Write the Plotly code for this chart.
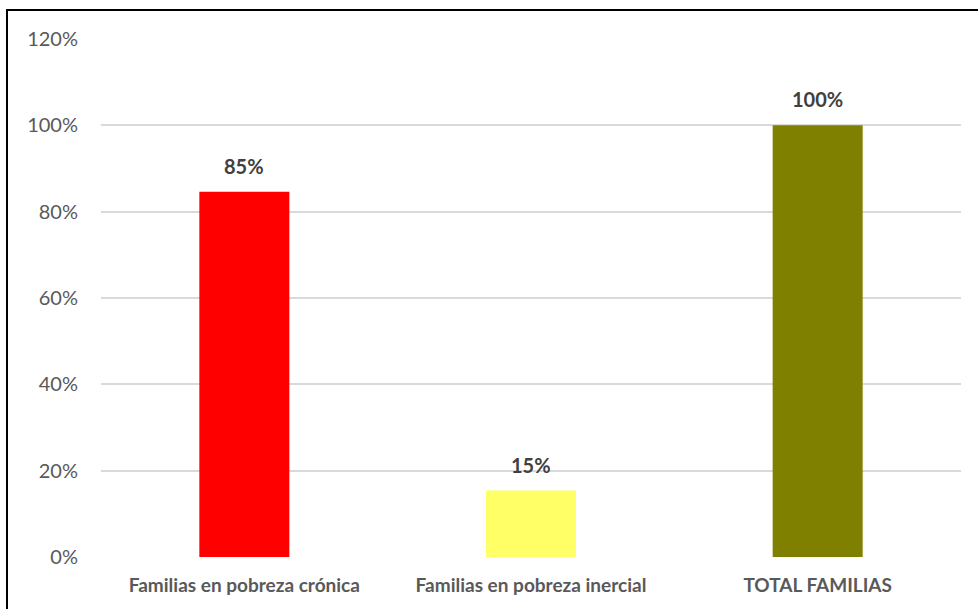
import plotly.graph_objects as go

categories = ["Familias en pobreza crónica", "Familias en pobreza inercial", "TOTAL FAMILIAS"]
values = [84.6, 15.4, 100.0]
value_labels = ["85%", "15%", "100%"]
bar_colors = ["#FF0000", "#FFFF66", "#808000"]
tick_vals = [0, 20, 40, 60, 80, 100, 120]
tick_text = ["0%", "20%", "40%", "60%", "80%", "100%", "120%"]

W, H = 978, 609
L, R, T, B = 101, 17, 39, 52
pw, ph = W - L - R, H - T - B
FONT = "Lato, Open Sans, sans-serif"

fig = go.Figure()
fig.add_trace(go.Bar(
    x=categories, y=values, marker=dict(color=bar_colors, line=dict(width=0)),
    hoverinfo="skip", showlegend=False,
))

for c, v, t in zip(categories, values, value_labels):
    fig.add_annotation(x=c, y=v, text="<b>%s</b>" % t, showarrow=False,
                       yanchor="bottom", yshift=12,
                       font=dict(family=FONT, size=20, color="#404040"))

fig.update_layout(
    width=W, height=H,
    margin=dict(l=L, r=R, t=T, b=B, pad=0),
    paper_bgcolor="white", plot_bgcolor="white",
    bargap=0.686,
    xaxis=dict(showgrid=False, showline=False, zeroline=False, ticks="",
               tickvals=categories, ticktext=["<b>%s</b>" % c for c in categories],
               tickfont=dict(family=FONT, size=19, color="#595959"),
               ticklabelstandoff=15),
    yaxis=dict(range=[0, 120], tickvals=tick_vals, ticktext=tick_text,
               showgrid=True, gridcolor="#D9D9D9", gridwidth=1.5,
               zeroline=False, showline=False, ticks="",
               ticklabelstandoff=22,
               tickfont=dict(family=FONT, size=20, color="#595959")),
    font=dict(family=FONT),
)

# outer chart border (partially outside the visible page, as in the reference)
fig.add_shape(type="rect", xref="paper", yref="paper",
              x0=(7 - L) / pw, x1=(W + 10 - L) / pw,
              y0=-(B + 10) / ph, y1=(H - B - 10) / ph,
              line=dict(color="black", width=2), fillcolor="rgba(0,0,0,0)", layer="above")

fig.write_html("out.html", config={"displayModeBar": False},
               post_script="document.body.style.margin='0';")
